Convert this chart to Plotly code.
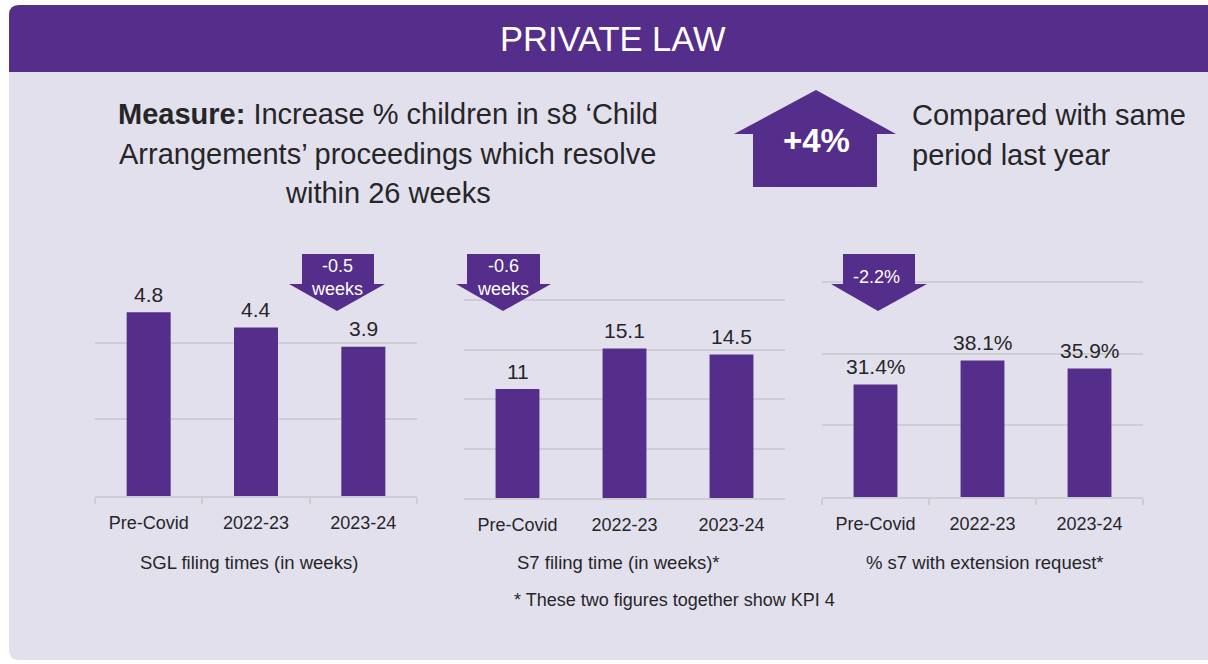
import plotly.graph_objects as go

# ---- data ----
categories = ["Pre-Covid", "2022-23", "2023-24"]
sgl_weeks = [4.8, 4.4, 3.9]
s7_weeks = [11, 15.1, 14.5]
s7_extension_pct = [31.4, 38.1, 35.9]
chart_titles = ["SGL filing times (in weeks)",
                "S7 filing time (in weeks)*",
                "% s7 with extension request*"]
change_labels = ["-0.5<br>weeks", "-0.6<br>weeks", "-2.2%"]
headline_change = "+4%"

# ---- styling ----
W, H = 1208, 664
PURPLE = "#542e8a"
LAVENDER = "#e3e0ee"
GRID = "#cfcdd4"
TEXT = "#262626"
FONT = "Liberation Sans, Arial, sans-serif"


def px(x):
    return x / W


def py(y):
    return 1 - y / H


def path(points):
    return "M " + " L ".join(f"{px(x):.5f},{py(y):.5f}" for x, y in points) + " Z"


# chart layout: x pixel span, baseline pixel, pixels per unit, gridline values, label suffix
charts = [
    dict(vals=sgl_weeks, x0=95, x1=417, base=496, ppu=38.3, grid=[0, 2, 4], suffix="", ticks=True),
    dict(vals=s7_weeks, x0=464, x1=785, base=498, ppu=9.9, grid=[0, 5, 10, 15, 20], suffix="", ticks=False),
    dict(vals=s7_extension_pct, x0=822, x1=1143, base=497, ppu=3.58, grid=[0, 20, 40, 60], suffix="%", ticks=True),
]
TOP = 254
title_x = [249, 618, 985]

fig = go.Figure()
annotations = []
layout_axes = {}

for i, c in enumerate(charts):
    n = "" if i == 0 else str(i + 1)
    fig.add_trace(go.Bar(
        x=categories, y=c["vals"], xaxis="x" + n, yaxis="y" + n,
        marker=dict(color=PURPLE, line=dict(width=0)), width=0.41,
        hoverinfo="skip", showlegend=False,
    ))
    layout_axes["xaxis" + n] = dict(
        domain=[px(c["x0"]), px(c["x1"])], anchor="y" + n,
        showgrid=False, zeroline=False,
        showline=True, linecolor=GRID, linewidth=1.5,
        ticks="outside", tickson="boundaries", ticklen=6,
        tickcolor=GRID if c["ticks"] else "rgba(0,0,0,0)", tickwidth=1.5,
        tickfont=dict(size=18, color=TEXT, family=FONT),
        ticklabelstandoff=10, fixedrange=True,
    )
    layout_axes["yaxis" + n] = dict(
        domain=[py(c["base"]), py(TOP)], anchor="x" + n,
        range=[0, (c["base"] - TOP) / c["ppu"]],
        tickvals=c["grid"], showticklabels=False,
        showgrid=True, gridcolor=GRID, gridwidth=1.5,
        zeroline=False, fixedrange=True,
    )
    # value labels above bars
    for cat, v in zip(categories, c["vals"]):
        annotations.append(dict(
            x=cat, y=v, xref="x" + n, yref="y" + n, text=f"{v:g}{c['suffix']}",
            showarrow=False, yanchor="middle", yshift=18,
            font=dict(size=21, color=TEXT, family=FONT),
        ))
    # chart title under the axis
    annotations.append(dict(
        x=px(title_x[i]), y=py(562), xref="paper", yref="paper", text=chart_titles[i],
        showarrow=False, xanchor="center", yanchor="middle",
        font=dict(size=18.5, color=TEXT, family=FONT),
    ))

shapes = []
# rounded panel
panel_path = ("M " + f"{px(19):.5f},{py(5):.5f}"
              + f" L {px(1230):.5f},{py(5):.5f} L {px(1230):.5f},{py(660):.5f}"
              + f" L {px(19):.5f},{py(660):.5f} Q {px(9):.5f},{py(660):.5f} {px(9):.5f},{py(650):.5f}"
              + f" L {px(9):.5f},{py(15):.5f} Q {px(9):.5f},{py(5):.5f} {px(19):.5f},{py(5):.5f} Z")
shapes.append(dict(type="path", xref="paper", yref="paper", path=panel_path,
                   fillcolor=LAVENDER, line=dict(width=0), layer="below"))
bar_path = ("M " + f"{px(19):.5f},{py(5):.5f}"
            + f" L {px(1230):.5f},{py(5):.5f} L {px(1230):.5f},{py(72):.5f}"
            + f" L {px(9):.5f},{py(72):.5f}"
            + f" L {px(9):.5f},{py(15):.5f} Q {px(9):.5f},{py(5):.5f} {px(19):.5f},{py(5):.5f} Z")
shapes.append(dict(type="path", xref="paper", yref="paper", path=bar_path,
                   fillcolor=PURPLE, line=dict(width=0), layer="below"))

# headline up arrow
shapes.append(dict(type="path", xref="paper", yref="paper",
                   path=path([(816, 90), (896, 134), (877, 134), (877, 187),
                              (753, 187), (753, 134), (734, 134)]),
                   fillcolor=PURPLE, line=dict(width=0), layer="above"))

# down arrows over each chart: shaft left/right, head left/right, tip x
down_arrows = [(302, 374, 289, 385, 337), (467, 540, 456, 551, 503), (843, 915, 831, 927, 878)]
for (sl, sr, hl, hr, tx) in down_arrows:
    shapes.append(dict(type="path", xref="paper", yref="paper",
                       path=path([(sl, 254), (sr, 254), (sr, 284), (hr, 284), (tx, 311),
                                  (hl, 284), (sl, 284)]),
                       fillcolor=PURPLE, line=dict(width=0), layer="above"))

change_pos = [(337, 277), (503, 277), (876, 277)]
for (x, y), t in zip(change_pos, change_labels):
    annotations.append(dict(
        x=px(x), y=py(y), xref="paper", yref="paper", text=t, showarrow=False,
        xanchor="center", yanchor="middle",
        font=dict(size=18, color="white", family=FONT),
    ))

# header title
annotations.append(dict(x=px(613), y=py(39), xref="paper", yref="paper", text="PRIVATE LAW",
                        showarrow=False, xanchor="center", yanchor="middle",
                        font=dict(size=34.5, color="white", family=FONT)))

# measure statement
measure_lines = ["<b>Measure:</b> Increase % children in s8 \u2018Child",
                 "Arrangements\u2019 proceedings which resolve",
                 "within 26 weeks"]
for line, y in zip(measure_lines, [114, 154, 193]):
    annotations.append(dict(x=px(388), y=py(y), xref="paper", yref="paper", text=line,
                            showarrow=False, xanchor="center", yanchor="middle",
                            font=dict(size=29, color=TEXT, family=FONT)))

annotations.append(dict(x=px(816), y=py(141), xref="paper", yref="paper",
                        text=f"<b>{headline_change}</b>", showarrow=False,
                        xanchor="center", yanchor="middle",
                        font=dict(size=33, color="white", family=FONT)))
for line, y in zip(["Compared with same", "period last year"], [115, 155]):
    annotations.append(dict(x=px(910), y=py(y), xref="paper", yref="paper", text=line,
                            showarrow=False, xanchor="left", yanchor="middle",
                            font=dict(size=29, color=TEXT, family=FONT)))

annotations.append(dict(x=px(674), y=py(600), xref="paper", yref="paper",
                        text="* These two figures together show KPI 4", showarrow=False,
                        xanchor="center", yanchor="middle",
                        font=dict(size=18, color=TEXT, family=FONT)))

fig.update_layout(
    width=W, height=H, margin=dict(l=0, r=0, t=0, b=0),
    paper_bgcolor="white", plot_bgcolor="rgba(0,0,0,0)",
    font=dict(family=FONT, color=TEXT),
    shapes=shapes, annotations=annotations, showlegend=False,
    bargap=0.59,
    **layout_axes,
)

fig.write_html("out.html", config={"displayModeBar": False})
